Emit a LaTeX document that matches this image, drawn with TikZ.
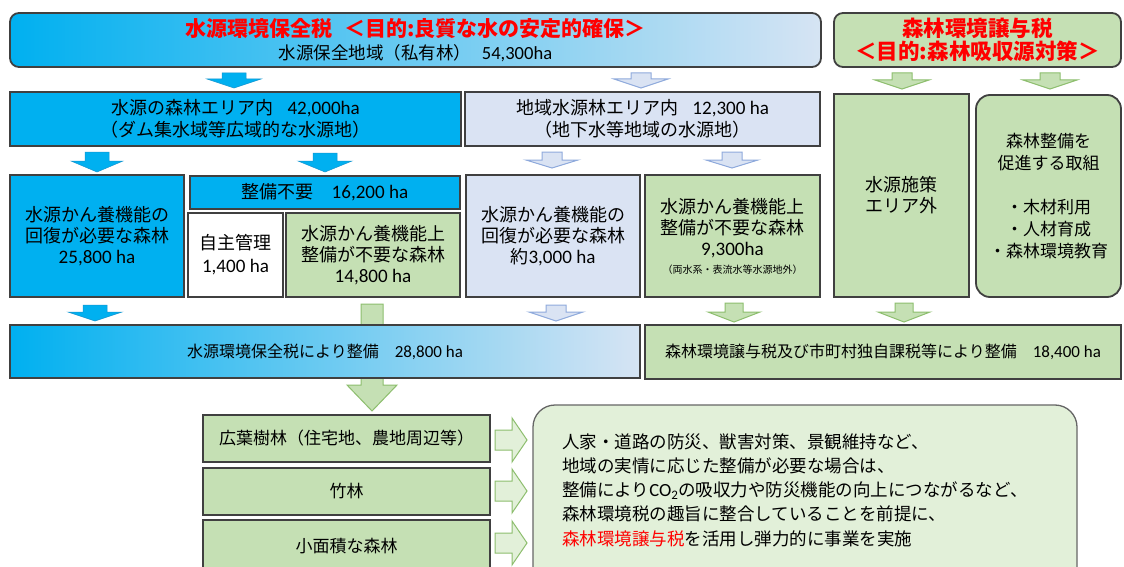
\documentclass[tikz,border=0pt]{standalone}
\usepackage{fontspec}
\setmainfont{Noto Sans CJK JP}
\newfontfamily\lat[Scale=1.06]{Carlito}
\definecolor{cyanF}{HTML}{00B0F0}
\definecolor{cyanD}{HTML}{1596D0}
\definecolor{gradR}{HTML}{D6E4F3}
\definecolor{lbF}{HTML}{DAE3F3}
\definecolor{lbD}{HTML}{8FAADC}
\definecolor{grF}{HTML}{C5E0B4}
\definecolor{grD}{HTML}{8DBE6E}
\definecolor{grL}{HTML}{E2F0D9}
\definecolor{edge}{HTML}{404040}
\definecolor{redT}{HTML}{FF0000}
\newcommand\fsz[2]{\fontsize{#1}{#2}\selectfont}
\newcommand\dnarr[7]{\draw[#1] (#2-#6,#3) -- (#2+#6,#3) -- (#2+#6,#4) -- (#2+#7,#4) -- (#2,#5) -- (#2-#7,#4) -- (#2-#6,#4) -- cycle;}
\newcommand\rtarr[7]{\draw[#1] (#3,#2-#6) -- (#4,#2-#6) -- (#4,#2-#7) -- (#5,#2) -- (#4,#2+#7) -- (#4,#2+#6) -- (#3,#2+#6) -- cycle;}
\begin{document}
\begin{tikzpicture}[x=1pt,y=-1pt,
  rect/.style args={#1/#2/#3/#4}{at={({(#1+#3)/2},{(#2+#4)/2})},
     minimum width={(#3-#1)*1pt}, minimum height={(#4-#2)*1pt}},
  box/.style={draw=edge, line width=1.3pt, inner sep=0pt, align=center, text=black},
  rbox/.style={box, rounded corners=9pt, line width=1.8pt},
  f18/.style={font=\fsz{18}{22}},
  arB/.style={fill=cyanF, draw=cyanD, line width=0.5pt},
  arL/.style={fill=lbF, draw=lbD, line width=1pt},
  arG/.style={fill=grF, draw=grD, line width=1pt},
  arGL/.style={fill=grL, draw=grD, line width=1pt}]
\useasboundingbox (0,0) rectangle (1124,567);
\fill[white] (0,0) rectangle (1124,567);
\clip (0,0) rectangle (1124,567);

% top banners
\node[rbox, left color=cyanF, right color=gradR, rect=10/13/821/67, font=\fsz{17.5}{23}] (tb)
  {{\fsz{21}{23}\bfseries\color{redT}水源環境保全税\hspace{0.6em}＜目的:良質な水の安定的確保＞}\\水源保全地域（私有林）\hspace{0.6em}{\lat 54,300ha}};
\node[rbox, fill=grF, rect=834/13/1121/67, font=\fsz{21.5}{23}\bfseries, text=redT] (rb)
  {森林環境譲与税\\＜目的:森林吸収源対策＞};

% row 2
\node[box, fill=cyanF, rect=10/92/461/146, f18] (r2a)
  {水源の森林エリア内\hspace{0.8em}{\lat 42,000ha}\\（ダム集水域等広域的な水源地）};
\node[box, fill=lbF, rect=465/92/820/146, f18] (r2b)
  {地域水源林エリア内\hspace{0.8em}{\lat 12,300 ha}\\（地下水等地域の水源地）};
\node[box, fill=grF, rect=834/94/969/297, font=\fsz{18}{21}] (r2c) {水源施策\\エリア外};
\node[box, rounded corners=14pt, line width=1.8pt, fill=grF, rect=976/95/1121/297, font=\fsz{17}{22}] (r2d)
  {森林整備を\\促進する取組\\[22pt]・木材利用\\・人材育成\\・森林環境教育};

% row 3
\node[box, fill=cyanF, rect=10/175/184/297, font=\fsz{18}{21}] (b1)
  {水源かん養機能の\\回復が必要な森林\\{\lat 25,800 ha}};
\node[box, fill=cyanF, rect=190/176/460/209, f18] (b2) {整備不要\hspace{1em}{\lat 16,200 ha}};
\node[box, fill=white, rect=188/213/283/297, font=\fsz{18}{23}] (b3) {自主管理\\{\lat 1,400 ha}};
\node[box, fill=grF, rect=286/213/460/297, font=\fsz{18}{21}] (b4)
  {水源かん養機能上\\整備が不要な森林\\{\lat 14,800 ha}};
\node[box, fill=lbF, rect=466/175/640/297, font=\fsz{18}{21}] (b5)
  {水源かん養機能の\\回復が必要な森林\\約{\lat 3,000 ha}};
\node[box, fill=grF, rect=645/175/820/297, font=\fsz{18}{21}] (b6)
  {水源かん養機能上\\整備が不要な森林\\{\lat 9,300ha}\\[-3pt]{\fsz{10}{12}（両水系・表流水等水源地外）}};

% big green arrow (behind c1)
\dnarr{arG}{372}{304}{385}{411}{11}{25}

% row 4
\node[box, left color=cyanF, right color=gradR, rect=10/325/640/378, font=\fsz{16}{20}] (c1)
  {水源環境保全税により整備\hspace{1em}{\lat 28,800 ha}};
\node[box, fill=grF, rect=645/325/1121/379, font=\fsz{16}{20}] (c2)
  {森林環境譲与税及び市町村独自課税等により整備\hspace{1em}{\lat 18,400 ha}};

% bottom
\node[box, fill=grF, rect=203/415/490/462, font=\fsz{17}{20}] (d1) {広葉樹林（住宅地、農地周辺等）};
\node[box, fill=grF, rect=203/468/490/515, font=\fsz{17}{20}] (d2) {竹林};
\node[box, fill=grF, rect=203/520/490/572, font=\fsz{17}{20}] (d3) {小面積な森林};
\node[box, draw=edge!80, rounded corners=22pt, fill=grL, rect=533/405/1077/600] (e) {};
\node[anchor=west, align=left, font=\fsz{17.5}{24.3}, inner sep=0pt] (eT) at (562,490)
  {人家・道路の防災、獣害対策、景観維持など、\\
   地域の実情に応じた整備が必要な場合は、\\
   整備により{\lat CO\textsubscript{2}}の吸収力や防災機能の向上につながるなど、\\
   森林環境税の趣旨に整合していることを前提に、\\
   {\color{redT}森林環境譲与税}を活用し弾力的に事業を実施};

% block arrows
\dnarr{arB}{234}{73}{79}{88}{12}{27}
\dnarr{arL}{641}{73}{79}{88}{10}{27}
\dnarr{arG}{902}{73}{80}{89}{10}{27}
\dnarr{arG}{1050}{73}{80}{89}{10}{27}
\dnarr{arB}{97}{152}{161}{172}{12}{26}
\dnarr{arB}{325}{153}{161}{172}{12}{27}
\dnarr{arL}{552}{152}{160}{168}{10}{26}
\dnarr{arL}{732}{152}{160}{168}{10}{26}
\dnarr{arB}{95}{305}{312}{321}{12}{27}
\dnarr{arL}{556}{305}{312}{321}{10}{27}
\dnarr{arG}{734}{303}{312}{322}{9}{26}
\dnarr{arG}{904}{303}{312}{322}{9}{26}
\rtarr{arGL}{440}{495}{512}{527}{10}{22}
\rtarr{arGL}{491}{495}{512}{527}{10}{22}
\rtarr{arGL}{543}{495}{512}{527}{10}{22}
\end{tikzpicture}
\end{document}
